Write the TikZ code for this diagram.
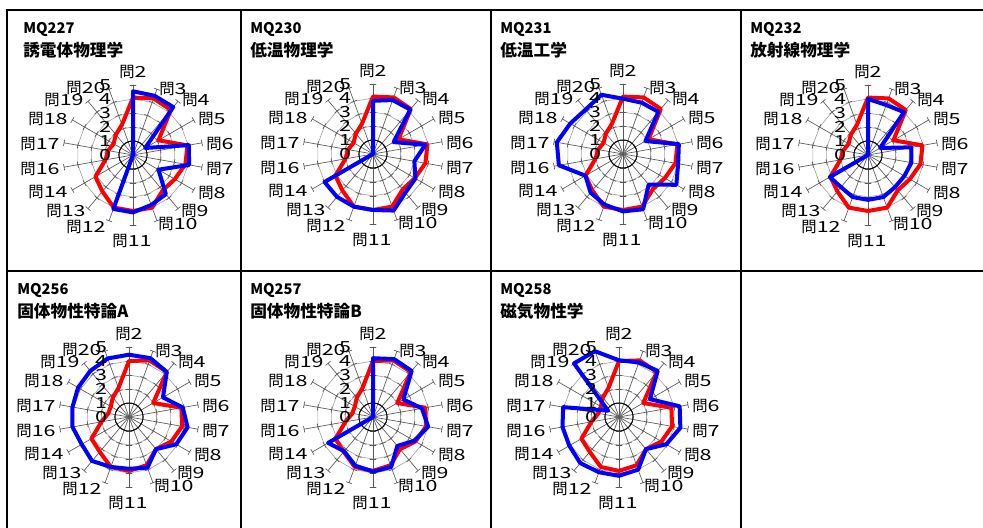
\documentclass[tikz,border=0pt]{standalone}
\usepackage{fontspec}
\setmainfont{Noto Sans CJK JP}

% digits of the chart labels are set wide
\newcommand\widen[1]{\scalebox{1.4}[1]{#1}}

\tikzset{
  frame/.style={line width=1.5pt},
  spoke/.style={black!65, line width=0.5pt},
  web/.style={black!35, line width=0.5pt},
  hub/.style={black, line width=0.7pt},
  avgline/.style={red, line width=3pt, line join=round},
  crsline/.style={blue, line width=3pt, line join=round},
  qlabel/.style={inner sep=0pt, font=\fontsize{11.5}{13}\selectfont},
  title/.style={anchor=west, inner sep=0pt, font=\bfseries\fontsize{11}{13}\selectfont},
  subject/.style={title, font=\bfseries\fontsize{12.5}{14}\selectfont},
}

% scores for q2 ... q20 (no q15), red = average, blue = course
\def\avgA{4.1,4.3,4.2,2.1,3.95,3.8,3.45,3.3,4.0,4.0,4.0,3.4,3.1,2.0,1.8,1.6,1.9,2.3}
\def\avgB{4.0,4.3,4.2,2.0,3.8,3.85,3.5,3.0,3.67,3.85,3.8,3.25,3.1,2.0,1.5,1.5,1.8,2.2}
\def\crsA{4.55,4.5,4.47,1.0,4.05,4.07,2.1,3.65,3.8,4.1,4.1,0,0,0,0,0,0,0}
\def\crsB{3.8,4.1,4.15,1.7,3.8,3.0,3.5,3.6,4.3,4.0,4.0,4.0,4.0,0,0,0,0,0}
\def\crsC{3.95,3.9,3.93,1.85,4.05,4.0,4.4,2.85,4.2,4.1,3.85,3.6,3.1,4.65,4.8,4.35,4.15,4.5}
\def\crsD{4.0,3.8,4.0,1.0,3.15,3.15,3.0,3.0,3.2,3.2,3.2,3.0,3.15,0,0,0,0,0}
\def\crsE{4.45,4.47,4.2,2.8,3.9,4.25,3.9,3.0,3.85,3.7,3.8,4.1,3.9,4.1,4.1,4.2,4.3,4.45}
\def\crsF{4.2,4.4,4.3,2.5,3.55,4.0,3.4,2.7,3.8,3.9,3.7,3.2,3.7,0,0,0,0,0}
\def\crsG{4.05,4.15,4.3,2.55,4.4,4.45,3.9,3.0,4.0,4.2,4.2,4.3,4.1,4.1,4.05,0.9,5.0,5.0}

\begin{document}
\begin{tikzpicture}[x=0.75pt,y=0.75pt,line cap=round]
\useasboundingbox (0,0) rectangle (983,528);

% table
\draw[frame] (7,0) -- (7,518) -- (983,518);
\draw[frame] (7,257) -- (983,257);
\foreach \x in {241,491,741}
  \draw[frame] (\x,0) -- (\x,518);

\foreach \n/\cx/\cy/\tx/\ty/\code/\subj/\avg/\crs in {
  1/133/373/23/499/MQ227/誘電体物理学/\avgA/\crsA,
  2/373/374/250/499/MQ230/低温物理学/\avgA/\crsB,
  3/623/374/500/499/MQ231/低温工学/\avgA/\crsC,
  4/868/373/750/499/MQ232/放射線物理学/\avgA/\crsD,
  5/129/111/17/238/MQ256/固体物性特論A/\avgB/\crsE,
  6/373/111/250/238/MQ257/固体物性特論B/\avgB/\crsF,
  7/619/111/500/238/MQ258/磁気物性学/\avgB/\crsG} {
  \node[title] (code\n) at (\tx,\ty) {\code};
  \node[subject] (subj\n) at (\tx,\ty-21) {\subj};
  \begin{scope}[shift={(\cx,\cy)}]
    % grid
    \foreach \r in {28,42,56}
      \draw[web] (90:\r) \foreach \a in {70,50,...,-250} {-- (\a:\r)} -- cycle;
    \foreach \a in {90,70,...,-250}
      \draw[spoke,rotate=\a] (0,0) -- (70,0)
        \foreach \k in {14,28,...,70} {(\k,-3) -- (\k,3)};
    \draw[hub] (0,0) circle[radius=14];
    % data
    \edef\vals{\avg}
    \foreach \v [count=\i from 0] in \vals
      \coordinate (p\i) at ({90-20*\i}:{14*\v});
    \draw[avgline] (p0) \foreach \i in {1,...,17} {-- (p\i)} -- cycle;
    \edef\vals{\crs}
    \foreach \v [count=\i from 0] in \vals
      \coordinate (p\i) at ({90-20*\i}:{14*\v});
    \draw[crsline] (p0) \foreach \i in {1,...,17} {-- (p\i)} -- cycle;
    % labels
    \foreach \k in {0,...,5}
      \node[qlabel] (s\n-\k) at (-28,14*\k) {\widen{\k}};
    \foreach \q/\lx/\ly in {2/0/83, 3/40/66, 4/63/55, 5/79/36, 6/87/11,
      7/87/-14, 8/79/-38, 9/62/-56, 10/45/-69, 11/-1/-86, 12/-47/-72,
      13/-67/-56, 14/-85/-37, 16/-93/-14, 17/-93/11, 18/-85/36,
      19/-69/55, 20/-47/67}
      \node[qlabel] (q\n-\q) at (\lx,\ly) {問\widen{\q}};
  \end{scope}
}
\end{tikzpicture}
\end{document}
